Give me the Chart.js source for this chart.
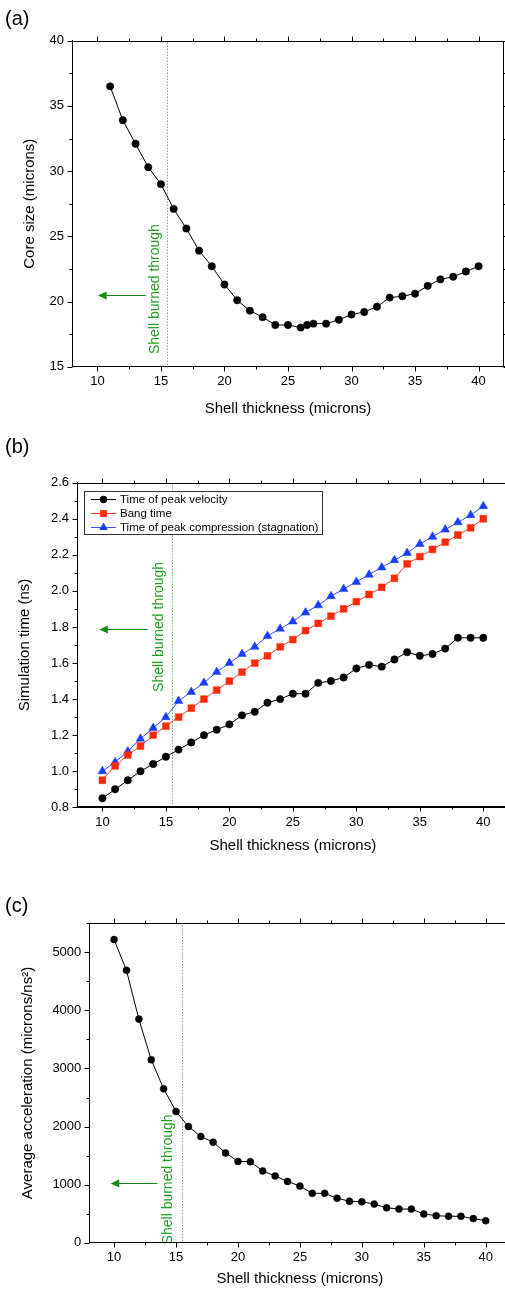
<!DOCTYPE html>
<html>
<head>
<meta charset="utf-8">
<script src="https://cdn.jsdelivr.net/npm/chart.js@4.4.0/dist/chart.umd.min.js"></script>
<style>
	html, body { margin: 0; padding: 0; background: #fff; overflow: hidden; width: 505px; height: 1293px; }
	canvas { position: absolute; left: 0; }
</style>
</head>
<body>
<canvas id="coreChart" width="520" height="430" style="top:0"></canvas>
<canvas id="timeChart" width="520" height="440" style="top:430px"></canvas>
<canvas id="accelChart" width="520" height="423" style="top:870px"></canvas>
<script>
// shell thickness in microns
var thickness = [10, 11, 12, 13, 14, 15, 16, 17, 18, 19, 20, 21, 22, 23, 24, 25,
	26, 27, 28, 29, 30, 31, 32, 33, 34, 35, 36, 37, 38, 39, 40];
var coreThickness = [11, 12, 13, 14, 15, 16, 17, 18, 19, 20, 21, 22, 23, 24, 25, 26,
	26.5, 27, 28, 29, 30, 31, 32, 33, 34, 35, 36, 37, 38, 39, 40];

// (a) core size, microns
var coreSize = [36.5, 33.9, 32.1, 30.3, 29.0, 27.1, 25.6, 23.9, 22.7, 21.3, 20.1, 19.3, 18.8, 18.2, 18.2, 18.0,
	18.2, 18.3, 18.3, 18.6, 19.0, 19.2, 19.6, 20.3, 20.4, 20.6, 21.2, 21.7, 21.9, 22.3, 22.7];

// (b) simulation times, ns
var peakVelocityTime = [0.85, 0.90, 0.95, 1.00, 1.04, 1.08, 1.12, 1.16, 1.20, 1.23, 1.26, 1.31, 1.33, 1.38, 1.40, 1.43,
	1.43, 1.49, 1.50, 1.52, 1.57, 1.59, 1.58, 1.62, 1.66, 1.64, 1.65, 1.68, 1.74, 1.74, 1.74];
var bangTime = [0.95, 1.03, 1.09, 1.14, 1.20, 1.25, 1.30, 1.35, 1.40, 1.45, 1.50, 1.55, 1.60, 1.64, 1.69, 1.73,
	1.78, 1.82, 1.86, 1.90, 1.94, 1.98, 2.02, 2.07, 2.15, 2.19, 2.23, 2.27, 2.31, 2.35, 2.40];
var stagnationTime = [1.00, 1.05, 1.11, 1.18, 1.24, 1.30, 1.39, 1.44, 1.49, 1.55, 1.60, 1.65, 1.69, 1.75, 1.79, 1.83,
	1.88, 1.92, 1.97, 2.01, 2.05, 2.09, 2.13, 2.17, 2.21, 2.26, 2.30, 2.34, 2.38, 2.42, 2.47];

// (c) average acceleration, microns/ns^2
var avgAcceleration = [5220, 4690, 3850, 3150, 2650, 2260, 2000, 1830, 1730, 1545, 1400, 1395, 1235, 1150, 1055, 975,
	850, 850, 765, 715, 705, 665, 600, 580, 580, 495, 465, 455, 455, 415, 380];

var seriesLabels = ['Time of peak velocity', 'Bang time', 'Time of peak compression (stagnation)'];
var burnThrough = 15.5;

var FONT = '"Liberation Sans", Arial, sans-serif';

function points(xs, ys) {
	return xs.map(function (x, i) { return { x: x, y: ys[i] }; });
}

// full box with outward ticks on all four sides (major + short minor)
var framePlugin = {
	id: 'frame',
	afterDraw: function (chart) {
		var ctx = chart.ctx, a = chart.chartArea, xs = chart.scales.x, ys = chart.scales.y;
		var L = Math.round(a.left) + 0.5, R = Math.round(a.right) - 0.5;
		var T = Math.round(a.top) + 0.5, B = Math.round(a.bottom) - 0.5;
		ctx.save();
		ctx.strokeStyle = '#000';
		ctx.lineWidth = 1;
		ctx.beginPath();
		ctx.moveTo(L, B); ctx.lineTo(L, T); ctx.lineTo(R, T); ctx.lineTo(R, B); ctx.lineTo(L, B);
		xs.ticks.forEach(function (t) {
			var p = Math.round(xs.getPixelForValue(t.value)) + 0.5;
			var len = t.label !== '' ? 5 : 3;
			ctx.moveTo(p, B); ctx.lineTo(p, B + len);
			ctx.moveTo(p, T); ctx.lineTo(p, T - len);
		});
		ys.ticks.forEach(function (t) {
			var p = Math.round(ys.getPixelForValue(t.value)) + 0.5;
			var len = t.label !== '' ? 5 : 3;
			ctx.moveTo(L, p); ctx.lineTo(L - len, p);
			ctx.moveTo(R, p); ctx.lineTo(R + len, p);
		});
		ctx.stroke();
		// panel tag
		var tag = chart.options.plugins.frame;
		ctx.fillStyle = '#000';
		ctx.font = '20px ' + FONT;
		ctx.textBaseline = 'middle';
		ctx.textAlign = 'left';
		ctx.fillText(tag.tag, 5, tag.tagY);
		ctx.restore();
	}
};

// dotted burn-through line, arrow and rotated note
var burnPlugin = {
	id: 'burn',
	beforeDatasetsDraw: function (chart, args, o) {
		var ctx = chart.ctx, a = chart.chartArea, xs = chart.scales.x, ys = chart.scales.y;
		var px = Math.round(xs.getPixelForValue(burnThrough)) + 0.5;
		ctx.save();
		ctx.strokeStyle = '#14a614';
		ctx.lineWidth = 1;
		ctx.setLineDash([1, 2]);
		ctx.beginPath();
		ctx.moveTo(px, a.top + 2);
		ctx.lineTo(px, a.bottom);
		ctx.stroke();
		ctx.setLineDash([]);

		var ay = Math.round(ys.getPixelForValue(o.arrowY)) + 0.5;
		var x0 = xs.getPixelForValue(o.arrowFrom), x1 = xs.getPixelForValue(o.arrowTo);
		ctx.strokeStyle = ctx.fillStyle = '#0e8e0e';
		ctx.beginPath();
		ctx.moveTo(x0, ay);
		ctx.lineTo(x1 + 6, ay);
		ctx.stroke();
		ctx.beginPath();
		ctx.moveTo(x1, ay);
		ctx.lineTo(x1 + 8.5, ay - 4);
		ctx.lineTo(x1 + 8.5, ay + 4);
		ctx.closePath();
		ctx.fill();

		ctx.fillStyle = '#1e9e1e';
		ctx.font = '14px ' + FONT;
		ctx.textAlign = 'center';
		ctx.textBaseline = 'middle';
		ctx.translate(xs.getPixelForValue(o.textX), ys.getPixelForValue(o.textY));
		ctx.rotate(-Math.PI / 2);
		ctx.fillText('Shell burned through', 0, 0);
		ctx.restore();
	}
};

// framed legend with line + marker samples
function drawMarker(ctx, style, x, y, r) {
	ctx.beginPath();
	if (style === 'rect') {
		var s = r * Math.SQRT1_2;
		ctx.rect(x - s, y - s, 2 * s, 2 * s);
	} else if (style === 'triangle') {
		for (var k = 0; k < 3; k++) {
			var ang = k * 2 * Math.PI / 3;
			var px = x + Math.sin(ang) * r, py = y - Math.cos(ang) * r;
			if (k === 0) ctx.moveTo(px, py); else ctx.lineTo(px, py);
		}
		ctx.closePath();
	} else {
		ctx.arc(x, y, r, 0, Math.PI * 2);
	}
	ctx.fill();
}

var boxLegendPlugin = {
	id: 'boxLegend',
	afterDraw: function (chart, args, o) {
		if (!o.show) return;
		var ctx = chart.ctx, a = chart.chartArea;
		var left = a.left + o.left, top = a.top + o.top;
		ctx.save();
		ctx.font = '11.5px ' + FONT;
		var w = 0;
		chart.data.datasets.forEach(function (ds) { w = Math.max(w, ctx.measureText(ds.label).width); });
		var width = Math.round(36 + w + 4), height = 43;
		ctx.fillStyle = '#fff';
		ctx.fillRect(left, top, width, height);
		ctx.strokeStyle = '#333';
		ctx.lineWidth = 1;
		ctx.strokeRect(Math.round(left) + 0.5, Math.round(top) + 0.5, width, height);
		chart.data.datasets.forEach(function (ds, i) {
			var y = Math.round(top + 8 + i * 14) + 0.5;
			ctx.strokeStyle = ds.borderColor;
			ctx.beginPath();
			ctx.moveTo(left + 7, y);
			ctx.lineTo(left + 32, y);
			ctx.stroke();
			ctx.fillStyle = ds.pointBackgroundColor;
			drawMarker(ctx, ds.pointStyle, left + 19.5, y, ds.pointRadius);
			ctx.fillStyle = '#000';
			ctx.textBaseline = 'middle';
			ctx.fillText(ds.label, left + 36, y + 0.5);
		});
		ctx.restore();
	}
};

function makePanel(id, g, datasets, yOpts, burn, legend) {
	var canvas = document.getElementById(id);
	var W = canvas.width, H = canvas.height;
	var yTitleOffset = 13;
	var padLeft = g.yTitleX - yTitleOffset;
	var yWidth = g.left - padLeft;
	var xHeight = g.titleY - g.bottom + 13;
	return new Chart(canvas, {
		type: 'line',
		data: { datasets: datasets },
		options: {
			responsive: false,
			animation: false,
			events: [],
			layout: {
				padding: { left: padLeft, top: g.top, right: W - g.right, bottom: H - g.bottom - xHeight },
			},
			scales: {
				x: {
					type: 'linear',
					min: 8,
					max: 42,
					grid: { drawOnChartArea: false, tickLength: 5, tickColor: 'rgba(0,0,0,0)' },
					border: { color: '#000', width: 1 },
					ticks: {
						stepSize: 2.5,
						includeBounds: false,
						autoSkip: false,
						maxRotation: 0,
						padding: 2,
						color: '#000',
						font: { family: FONT, size: 13 },
						callback: function (v) { return v % 5 === 0 ? String(v) : ''; },
					},
					title: { display: true, text: 'Shell thickness (microns)', color: '#000', font: { family: FONT, size: 15 } },
					afterFit: function (s) { s.height = xHeight; s.paddingLeft = 0; s.paddingRight = 0; },
				},
				y: {
					type: 'linear',
					min: yOpts.min,
					max: yOpts.max,
					grid: { drawOnChartArea: false, tickLength: 5, tickColor: 'rgba(0,0,0,0)' },
					border: { color: '#000', width: 1 },
					ticks: {
						stepSize: yOpts.step,
						autoSkip: false,
						color: '#000',
						font: { family: FONT, size: 13 },
						callback: yOpts.label,
					},
					title: { display: true, text: yOpts.title, color: '#000', font: { family: FONT, size: 15 } },
					afterFit: function (s) { s.width = yWidth; s.paddingTop = 0; s.paddingBottom = 0; },
				},
			},
			plugins: {
				legend: { display: false },
				tooltip: { enabled: false },
				frame: { tag: g.tag, tagY: g.tagY },
				burn: burn,
				boxLegend: legend || { show: false },
			},
		},
		plugins: [framePlugin, burnPlugin, boxLegendPlugin],
	});
}

function series(label, xs, ys, color, lineColor, style, radius) {
	return {
		label: label,
		data: points(xs, ys),
		borderColor: lineColor,
		borderWidth: 1,
		pointStyle: style,
		pointRadius: radius,
		pointBorderWidth: 0.5,
		pointBackgroundColor: color,
		pointBorderColor: color,
		tension: 0,
		fill: false,
	};
}

var coreChart = makePanel('coreChart',
	{ left: 72, right: 504, top: 40.7, bottom: 366.7, titleY: 409, yTitleX: 30, tag: '(a)', tagY: 19 },
	[series('Core size', coreThickness, coreSize, '#000', '#000', 'circle', 3.7)],
	{
		min: 15, max: 40, step: 2.5, title: 'Core size (microns)',
		label: function (v) { return v % 5 === 0 ? String(v) : ''; },
	},
	{ arrowY: 20.5, arrowFrom: 13.8, arrowTo: 10.05, textX: 14.55, textY: 20.95 }
);

var timeChart = makePanel('timeChart',
	{ left: 77, right: 508.7, top: 52.7, bottom: 377.3, titleY: 416, yTitleX: 25, tag: '(b)', tagY: 17 },
	[
		series(seriesLabels[0], thickness, peakVelocityTime, '#000', '#000', 'circle', 3.7),
		series(seriesLabels[1], thickness, bangTime, '#ff2a0a', '#ff3a24', 'rect', 4.8),
		series(seriesLabels[2], thickness, stagnationTime, '#1a3cff', '#2f52ff', 'triangle', 5),
	],
	{
		min: 0.8, max: 2.6, step: 0.1, title: 'Simulation time (ns)',
		label: function (v) { return Math.round(v * 10) % 2 === 0 ? v.toFixed(1) : ''; },
	},
	{ arrowY: 1.79, arrowFrom: 13.57, arrowTo: 9.76, textX: 14.46, textY: 1.8 },
	{ show: true, left: 7, top: 8.3 }
);

var accelChart = makePanel('accelChart',
	{ left: 89.3, right: 510.5, top: 53.3, bottom: 372.7, titleY: 409, yTitleX: 28, tag: '(c)', tagY: 36 },
	[series('Average acceleration', thickness, avgAcceleration, '#000', '#000', 'circle', 3.5)],
	{
		min: 0, max: 5500, step: 500, title: 'Average acceleration (microns/ns\u00B2)',
		label: function (v) { return v % 1000 === 0 ? String(v) : ''; },
	},
	{ arrowY: 1034, arrowFrom: 13.5, arrowTo: 9.73, textX: 14.4, textY: 1090 }
);
</script>
</body>
</html>
